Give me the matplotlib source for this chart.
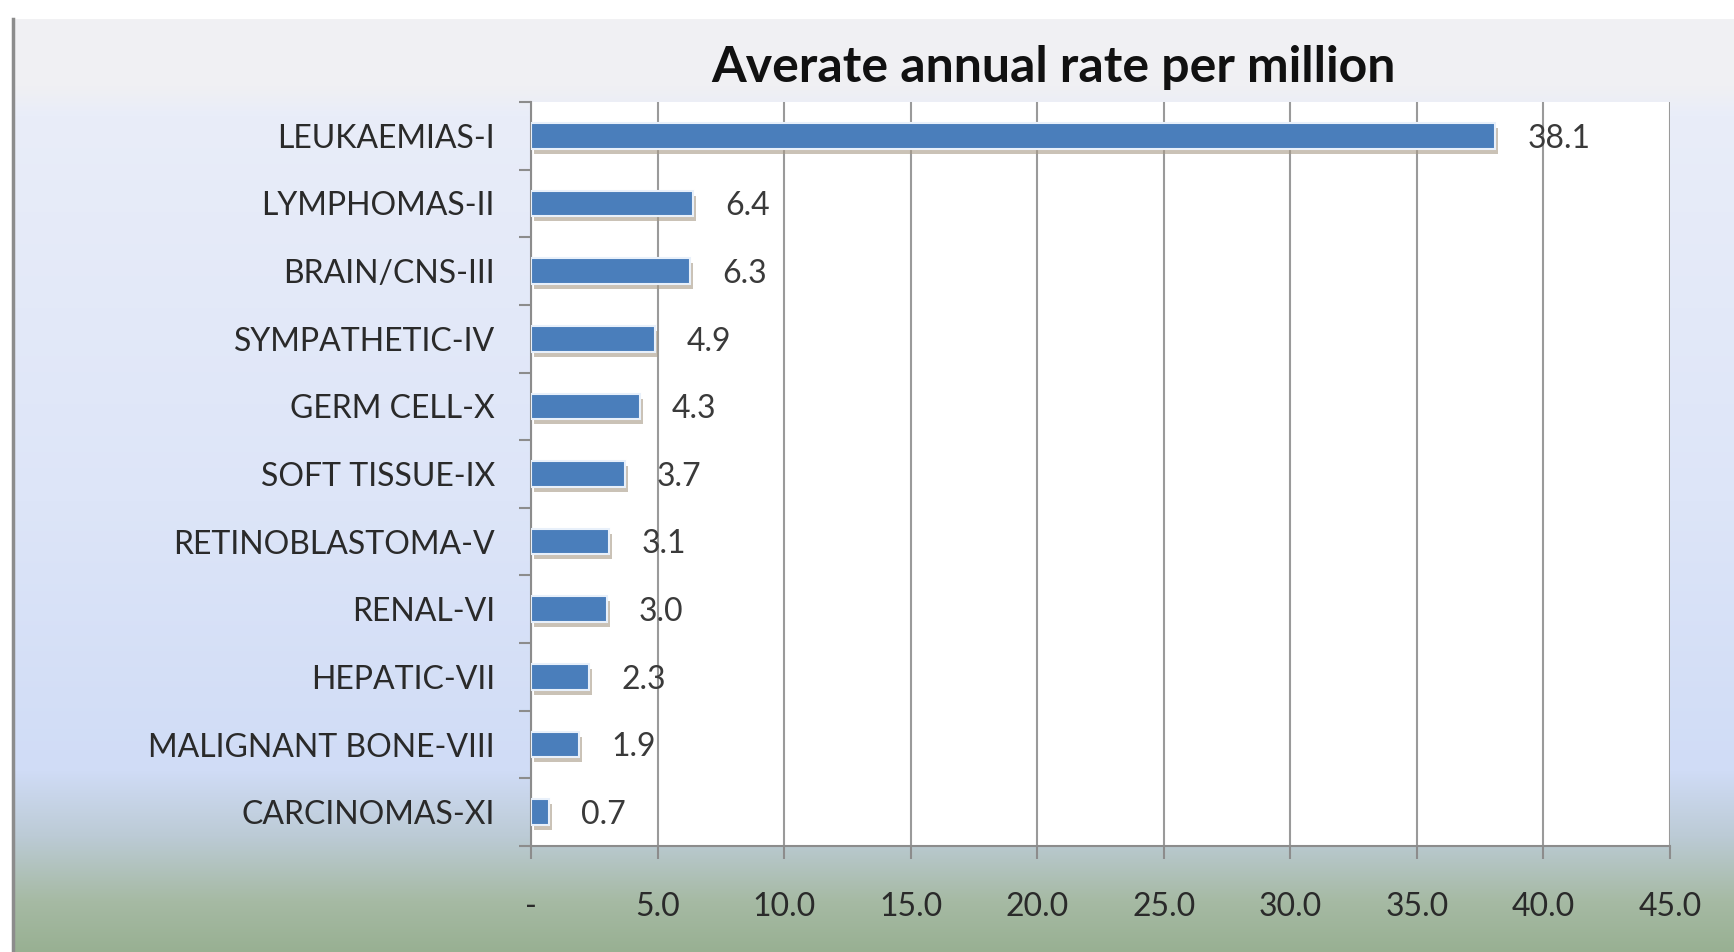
import numpy as np
import matplotlib
matplotlib.use('Agg')
import matplotlib.pyplot as plt
import matplotlib.colors as mcolors
import matplotlib.transforms as mtransforms

# ---------------------------
# Datos
# ---------------------------
categorias = ['LEUKAEMIAS-I', 'LYMPHOMAS-II', 'BRAIN/CNS-III', 'SYMPATHETIC-IV',
              'GERM CELL-X', 'SOFT TISSUE-IX', 'RETINOBLASTOMA-V', 'RENAL-VI',
              'HEPATIC-VII', 'MALIGNANT BONE-VIII', 'CARCINOMAS-XI']
tasas = [38.1, 6.4, 6.3, 4.9, 4.3, 3.7, 3.1, 3.0, 2.3, 1.9, 0.7]
xticks = [0, 5, 10, 15, 20, 25, 30, 35, 40, 45]
xtick_labels = ['-', '5.0', '10.0', '15.0', '20.0', '25.0', '30.0', '35.0', '40.0', '45.0']
titulo = 'Averate annual rate per million'

W, H = 1734, 952
fig = plt.figure(figsize=(W / 100, H / 100), dpi=100)
plt.rcParams['font.family'] = ['Lato', 'DejaVu Sans']

# ---------------------------
# Fondo degradado
# ---------------------------
bg = fig.add_axes([0, 0, 1, 1], zorder=-10)
bg.set_axis_off()
paradas_y = [0, 18, 19, 85, 115, 500, 770, 835, 900, 952]
paradas_c = ['#ffffff', '#ffffff', '#f1f1f3', '#f0f0f3', '#e9edf9', '#dde5f8',
             '#d0dcf6', '#bccbd6', '#a6baa4', '#98b092']
rgb = np.array([mcolors.to_rgb(c) for c in paradas_c])
ys = np.arange(H)
grad = np.stack([np.interp(ys, paradas_y, rgb[:, k]) for k in range(3)], axis=-1)
img = np.repeat(grad[:, None, :], W, axis=1)
img[:, :12] = 1.0
bg.imshow(img, extent=[0, W, H, 0], aspect='auto')
bg.plot([13, 13], [19, H], color='#8c8c8c', lw=2.5)
bg.set_xlim(0, W)
bg.set_ylim(H, 0)

# ---------------------------
# Gráfico de barras
# ---------------------------
ax = fig.add_axes([531 / W, 106 / H, 1139 / W, 744 / H])
ax.set_facecolor('white')
y = np.arange(len(categorias))
alto = 0.38

# sombra desplazada bajo cada barra
sombra = mtransforms.offset_copy(ax.transData, fig=fig, x=3, y=-5, units='dots')
ax.barh(y, tasas, height=alto, color='#a89a86', alpha=0.6, transform=sombra,
        zorder=2, linewidth=0)
ax.barh(y, tasas, height=alto, color='#4a7ebb', edgecolor='#e8f0fa',
        linewidth=1.5, zorder=3)

for yi, v in zip(y, tasas):
    ax.annotate(f'{v:.1f}', (v, yi), xytext=(23, -2), textcoords='offset points',
                ha='left', va='center', fontsize=23, color='#3a3a3a', zorder=4)

ax.set_xlim(0, 45)
ax.set_ylim(len(categorias) - 0.5, -0.5)
ax.set_xticks(xticks)
ax.set_xticklabels(xtick_labels, fontsize=23, color='#2a2a2a')
ax.set_yticks(y)
ax.set_yticklabels(categorias, fontsize=23, color='#2a2a2a')
ax.tick_params(axis='y', length=0, pad=26)
ax.set_yticks(np.arange(len(categorias) + 1) - 0.5, minor=True)
ax.tick_params(axis='y', which='minor', length=9, color='#8c8c8c', width=1.5)
ax.tick_params(axis='x', length=9, color='#8c8c8c', width=1.5, pad=24)

ax.grid(axis='x', color='#9a9a9a', lw=1.5, zorder=1)
for lado in ['top', 'right']:
    ax.spines[lado].set_visible(False)
for lado in ['left', 'bottom']:
    ax.spines[lado].set_color('#8c8c8c')
    ax.spines[lado].set_linewidth(1.5)

fig.text(1053 / W, 1 - 68 / H, titulo, ha='center', va='center',
         fontsize=36, fontweight='bold', color='#111111')

fig.savefig('out.png', dpi=100)
